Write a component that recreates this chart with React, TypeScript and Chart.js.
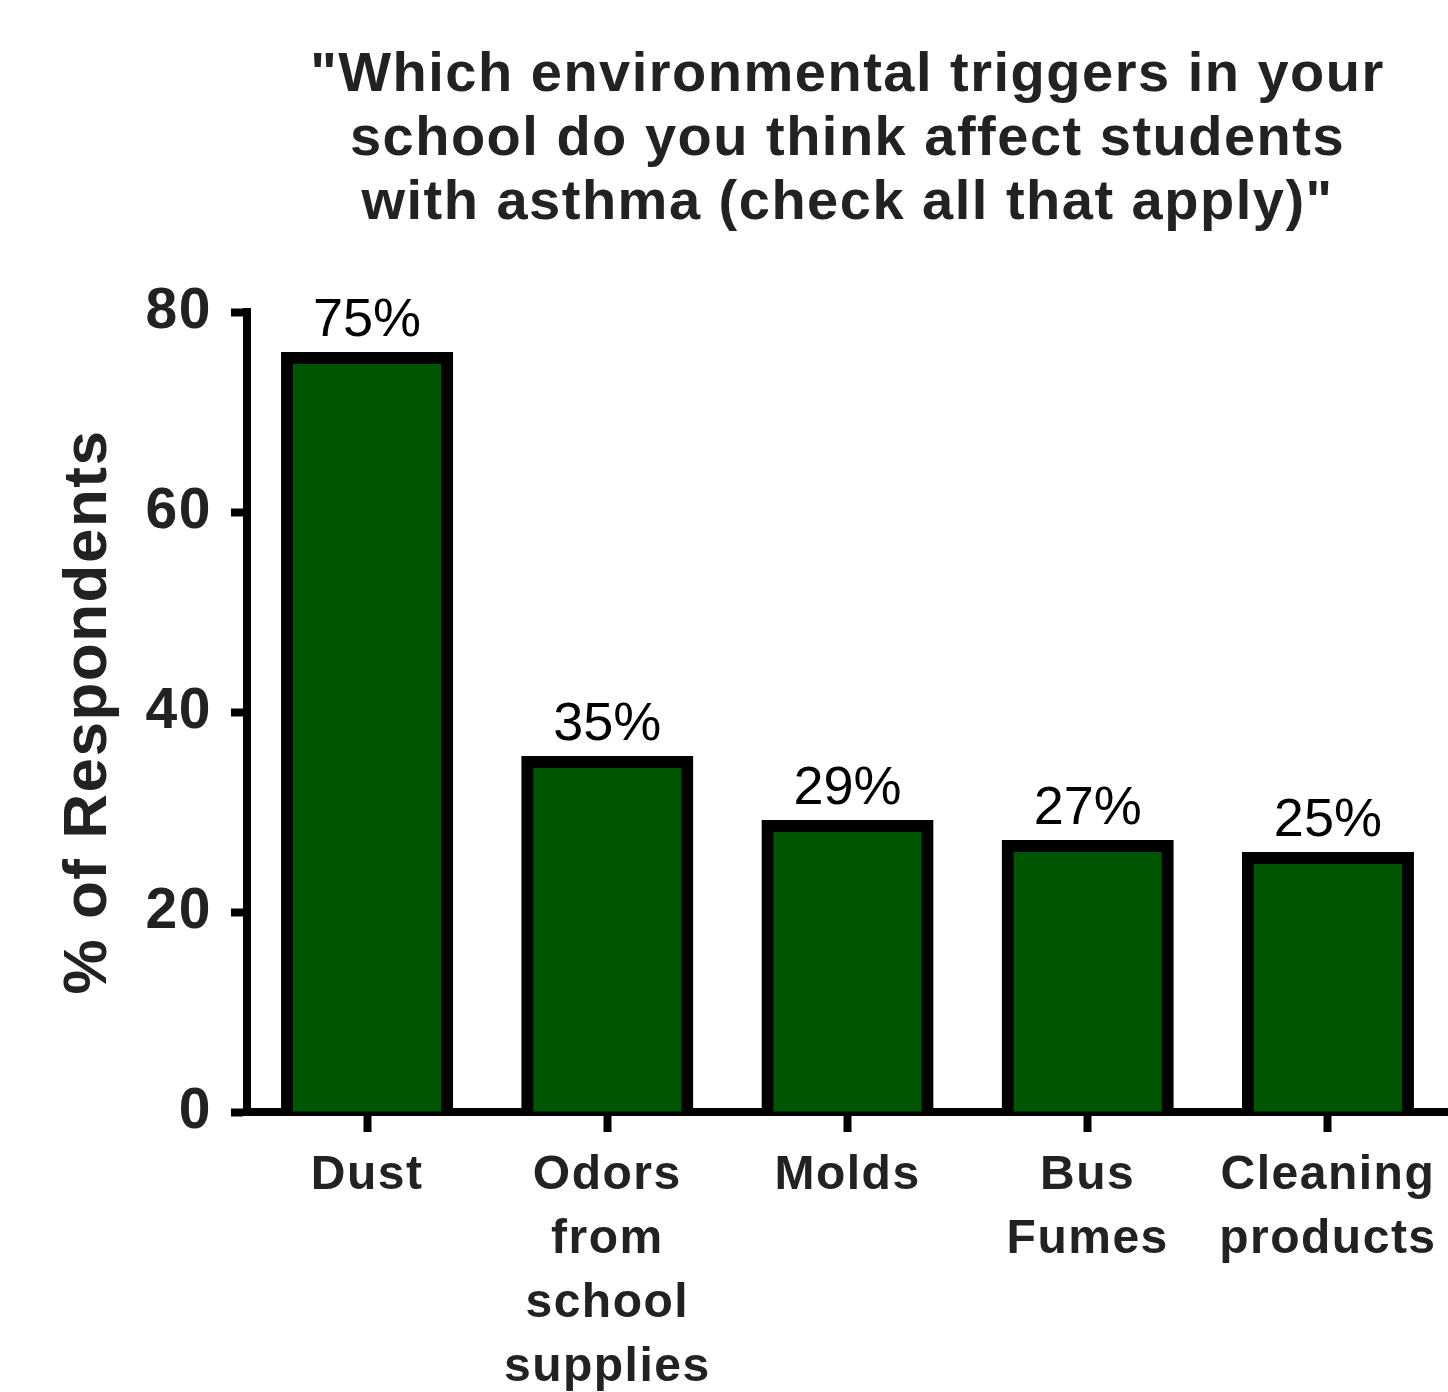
import React, { useEffect, useRef } from "react";
import { Chart, registerables } from "chart.js";

Chart.register(...registerables);

const categories: string[][] = [
  ["Dust"],
  ["Odors", "from", "school", "supplies"],
  ["Molds"],
  ["Bus", "Fumes"],
  ["Cleaning", "products"],
];
const respondentValues: number[] = [75.4, 35.0, 28.6, 26.6, 25.4];
const percentLabels: string[] = ["75%", "35%", "29%", "27%", "25%"];
const yTickValues: number[] = [0, 20, 40, 60, 80];
const titleLines: string[] = [
  "\"Which environmental triggers in your",
  "school do you think affect students",
  "with asthma (check all that apply)\"",
];
const yAxisTitle = "% of Respondents";

const FONT = "'Liberation Sans', Arial, sans-serif";

const spacingPlugin = {
  id: "letterSpacing",
  beforeDraw(chart: any) {
    (chart.ctx as any).letterSpacing = "1.5px";
  },
  afterDraw(chart: any) {
    (chart.ctx as any).letterSpacing = "0px";
  },
};

const valueLabelPlugin = {
  id: "valueLabels",
  afterDatasetsDraw(chart: any) {
    const ctx = chart.ctx as CanvasRenderingContext2D;
    const meta = chart.getDatasetMeta(0);
    ctx.save();
    (ctx as any).letterSpacing = "0px";
    ctx.font = `54px ${FONT}`;
    ctx.fillStyle = "#000";
    ctx.textAlign = "center";
    ctx.textBaseline = "alphabetic";
    meta.data.forEach((bar: any, i: number) => {
      ctx.fillText(percentLabels[i], bar.x, bar.y - 22);
    });
    ctx.restore();
  },
};

export default function App() {
  const ref = useRef<HTMLCanvasElement>(null);

  useEffect(() => {
    if (!ref.current) return;
    const chart = new Chart(ref.current, {
      type: "bar",
      data: {
        labels: categories,
        datasets: [
          {
            data: respondentValues,
            backgroundColor: "#005500",
            borderColor: "#000000",
            borderWidth: 12,
            inflateAmount: 6,
            barPercentage: 0.6667,
            categoryPercentage: 1,
            clip: { left: false, right: false, top: false, bottom: 0 } as any,
          } as any,
        ],
      },
      options: {
        animation: false,
        responsive: false,
        devicePixelRatio: 1,
        layout: { padding: 0 },
        plugins: {
          legend: { display: false },
          tooltip: { enabled: false },
          title: {
            display: true,
            fullSize: false,
            text: titleLines,
            color: "#222",
            font: { family: FONT, size: 56, weight: "bold", lineHeight: 64 / 56 },
            padding: { top: 44, bottom: 76 },
          },
        },
        scales: {
          x: {
            type: "category",
            offset: true,
            z: 1,
            grid: {
              offset: false,
              drawOnChartArea: false,
              drawTicks: true,
              tickLength: 20,
              tickWidth: 8,
              tickColor: "#000",
            },
            border: { display: true, width: 8, color: "#000" },
            ticks: {
              autoSkip: false,
              maxRotation: 0,
              minRotation: 0,
              padding: 12,
              color: "#222",
              font: { family: FONT, size: 48, weight: "bold", lineHeight: 64 / 48 },
            },
            afterFit(scale: any) {
              scale.height = 280;
            },
          },
          y: {
            min: 0,
            max: 80,
            z: 1,
            afterBuildTicks(scale: any) {
              scale.ticks = yTickValues.map((v) => ({ value: v }));
            },
            grid: {
              drawOnChartArea: false,
              drawTicks: true,
              tickLength: 16,
              tickWidth: 8,
              tickColor: "#000",
            },
            border: { display: true, width: 8, color: "#000" },
            ticks: {
              padding: 19,
              color: "#222",
              font: { family: FONT, size: 57, weight: "bold" },
            },
            title: {
              display: true,
              text: yAxisTitle,
              color: "#222",
              font: { family: FONT, size: 62, weight: "bold" },
              padding: { top: 52, bottom: 0 },
            },
            afterFit(scale: any) {
              scale.width = 247;
            },
          },
        },
      },
      plugins: [spacingPlugin, valueLabelPlugin],
    } as any);
    return () => chart.destroy();
  }, []);

  return (
    <div style={{ position: "absolute", left: 0, top: 0, width: 1448, height: 1392, background: "#fff" }}>
      <canvas ref={ref} width={1448} height={1392} style={{ display: "block", width: 1448, height: 1392 }} />
    </div>
  );
}
